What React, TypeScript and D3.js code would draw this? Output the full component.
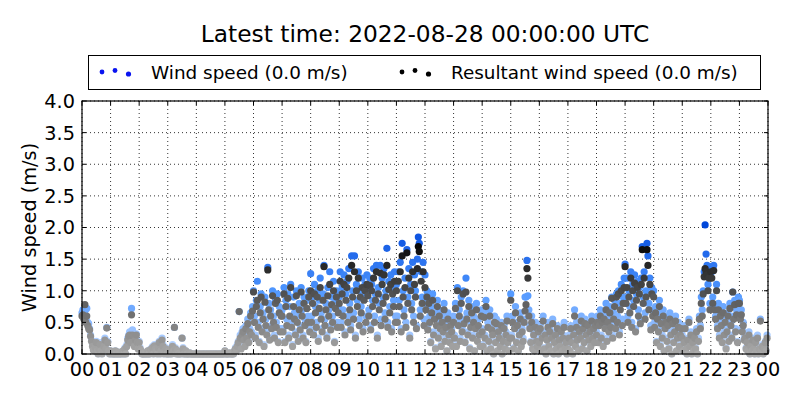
import React from 'react';
import * as d3 from 'd3';

// one sample every 2 minutes, 30 per hour, starting 2022-08-27 00:00 UTC
const stepMinutes = 2;

const windSpeed: number[] = [
  // 00
  0.65, 0.7, 0.6, 0.68, 0.55, 0.72, 0.5, 0.48, 0.4, 0.3, 0.22, 0.15, 0.08, 0.05, 0.12, 0.2, 0.06, 0.0, 0.1, 0.18, 0.05, 0.0, 0.08, 0.15, 0.25, 0.1, 0.42, 0.2, 0.05, 0.0,
  // 01
  0.05, 0.0, 0.02, 0.0, 0.0, 0.05, 0.0, 0.0, 0.03, 0.0, 0.0, 0.02, 0.0, 0.05, 0.0, 0.1, 0.0, 0.15, 0.25, 0.3, 0.35, 0.2, 0.72, 0.38, 0.3, 0.15, 0.25, 0.32, 0.2, 0.1,
  // 02
  0.2, 0.1, 0.05, 0.0, 0.0, 0.0, 0.02, 0.0, 0.0, 0.05, 0.0, 0.0, 0.08, 0.05, 0.12, 0.0, 0.15, 0.1, 0.05, 0.0, 0.12, 0.2, 0.0, 0.05, 0.25, 0.15, 0.0, 0.05, 0.1, 0.0,
  // 03
  0.0, 0.05, 0.0, 0.08, 0.0, 0.15, 0.05, 0.42, 0.1, 0.0, 0.05, 0.0, 0.0, 0.02, 0.0, 0.25, 0.1, 0.0, 0.0, 0.05, 0.0, 0.0, 0.0, 0.02, 0.0, 0.0, 0.0, 0.0, 0.0, 0.0,
  // 04
  0.0, 0.0, 0.0, 0.0, 0.0, 0.0, 0.0, 0.0, 0.0, 0.0, 0.0, 0.0, 0.0, 0.0, 0.0, 0.0, 0.0, 0.0, 0.0, 0.0, 0.0, 0.0, 0.0, 0.0, 0.0, 0.0, 0.0, 0.0, 0.0, 0.0,
  // 05
  0.05, 0.0, 0.0, 0.0, 0.0, 0.02, 0.0, 0.0, 0.0, 0.0, 0.05, 0.1, 0.05, 0.15, 0.2, 0.67, 0.3, 0.1, 0.35, 0.4, 0.25, 0.15, 0.45, 0.3, 0.55, 0.2, 0.4, 0.65, 0.35, 0.75,
  // 06
  1.0, 0.6, 0.3, 0.85, 1.15, 0.5, 0.2, 0.75, 0.95, 0.4, 0.65, 0.15, 0.9, 0.55, 0.35, 1.37, 0.8, 0.25, 0.7, 0.45, 1.0, 0.6, 0.3, 0.85, 0.5, 0.95, 0.2, 0.75, 0.4, 0.65,
  // 07
  0.7, 0.4, 1.05, 0.2, 0.85, 0.55, 0.95, 0.3, 0.75, 1.1, 0.5, 0.15, 0.9, 0.65, 0.35, 1.0, 0.6, 0.25, 0.8, 0.45, 1.05, 0.7, 0.3, 0.9, 0.55, 0.2, 0.85, 0.6, 1.0, 0.4,
  // 08
  1.27, 0.6, 0.9, 0.35, 1.1, 0.75, 0.5, 1.0, 0.25, 0.85, 1.2, 0.65, 0.4, 0.95, 1.4, 0.55, 0.8, 0.3, 1.05, 0.7, 1.3, 0.45, 0.9, 0.6, 1.15, 0.2, 0.85, 1.0, 0.5, 0.75,
  // 09
  0.9, 1.3, 0.5, 1.05, 0.7, 1.25, 0.35, 0.95, 1.15, 0.6, 1.35, 0.8, 0.45, 1.55, 1.0, 0.65, 1.55, 0.3, 1.1, 0.85, 1.3, 0.55, 1.0, 0.75, 1.2, 0.4, 0.95, 1.1, 0.6, 1.25,
  // 10
  1.0, 0.7, 1.2, 0.45, 1.1, 0.85, 1.35, 0.6, 0.95, 1.4, 0.3, 1.05, 0.8, 1.4, 0.55, 1.2, 0.9, 1.35, 0.65, 1.0, 1.67, 0.5, 1.15, 0.75, 1.25, 0.4, 1.05, 0.85, 1.3, 0.6,
  // 11
  1.1, 0.6, 1.3, 0.85, 1.45, 0.4, 1.75, 1.0, 0.7, 1.2, 0.5, 1.65, 0.9, 1.35, 0.3, 1.1, 0.8, 1.45, 0.6, 1.25, 1.0, 0.45, 1.5, 1.85, 1.75, 0.7, 1.3, 0.9, 1.45, 0.55,
  // 12
  1.25, 0.8, 1.0, 0.45, 0.9, 0.6, 0.2, 0.75, 0.95, 0.35, 0.65, 0.1, 0.55, 0.85, 0.3, 0.7, 0.45, 0.15, 0.6, 0.4, 0.8, 0.25, 0.5, 0.05, 0.65, 0.35, 0.2, 0.55, 0.4, 0.15,
  // 13
  0.6, 0.3, 0.8, 0.15, 1.05, 0.5, 0.7, 0.25, 0.9, 0.4, 1.0, 0.55, 0.2, 1.2, 0.65, 0.35, 0.85, 0.1, 0.5, 0.75, 0.3, 0.6, 0.05, 0.45, 0.8, 0.25, 0.55, 0.35, 0.15, 0.7,
  // 14
  0.4, 0.15, 0.65, 0.3, 0.85, 0.05, 0.5, 0.25, 0.7, 0.1, 0.45, 0.35, 0.0, 0.6, 0.2, 0.55, 0.05, 0.4, 0.3, 0.15, 0.5, 0.0, 0.25, 0.45, 0.1, 0.35, 0.6, 0.2, 0.05, 0.3,
  // 15
  0.95, 0.3, 0.6, 0.1, 0.45, 0.75, 0.2, 0.5, 0.05, 0.35, 0.65, 0.15, 0.4, 0.25, 0.55, 0.9, 0.9, 1.48, 0.92, 0.7, 0.45, 0.2, 0.6, 0.1, 0.35, 0.05, 0.5, 0.25, 0.15, 0.4,
  // 16
  0.2, 0.45, 0.05, 0.3, 0.6, 0.1, 0.35, 0.0, 0.25, 0.5, 0.15, 0.4, 0.05, 0.3, 0.55, 0.0, 0.2, 0.35, 0.1, 0.45, 0.0, 0.25, 0.15, 0.4, 0.05, 0.3, 0.5, 0.1, 0.2, 0.0,
  // 17
  0.1, 0.3, 0.05, 0.45, 0.2, 0.0, 0.35, 0.7, 0.15, 0.5, 0.25, 0.05, 0.4, 0.3, 0.6, 0.1, 0.45, 0.2, 0.55, 0.35, 0.05, 0.5, 0.25, 0.4, 0.15, 0.6, 0.3, 0.45, 0.2, 0.5,
  // 18
  0.35, 0.6, 0.2, 0.5, 0.7, 0.3, 0.55, 0.15, 0.65, 0.45, 0.8, 0.25, 0.6, 0.4, 0.75, 0.5, 0.9, 0.3, 0.65, 0.85, 0.45, 0.95, 0.6, 1.0, 0.35, 0.8, 1.1, 0.55, 0.9, 1.2,
  // 19
  1.42, 0.9, 1.2, 0.6, 1.0, 0.75, 1.3, 0.5, 1.1, 0.85, 1.25, 0.4, 0.95, 1.15, 0.7, 1.05, 0.55, 1.2, 1.7, 0.9, 1.3, 0.65, 1.0, 1.75, 1.55, 0.8, 1.2, 0.45, 1.05, 0.7,
  // 20
  1.0, 0.5, 0.75, 0.2, 0.65, 0.4, 0.85, 0.15, 0.55, 0.3, 0.7, 0.05, 0.45, 0.6, 0.25, 0.5, 0.1, 0.65, 0.35, 0.0, 0.55, 0.2, 0.4, 0.6, 0.05, 0.3, 0.5, 0.15, 0.35, 0.45,
  // 21
  0.3, 0.05, 0.2, 0.45, 0.1, 0.0, 0.25, 0.55, 0.15, 0.35, 0.0, 0.2, 0.05, 0.3, 0.1, 0.4, 0.0, 0.25, 0.6, 0.45, 0.9, 0.7, 1.0, 1.3, 2.04, 1.58, 1.4, 1.1, 1.3, 0.8,
  // 22
  1.38, 1.3, 0.9, 1.4, 0.75, 0.6, 1.1, 0.45, 0.8, 0.3, 0.65, 0.5, 0.2, 0.75, 0.35, 0.55, 0.1, 0.4, 0.65, 0.25, 0.8, 0.5, 0.3, 0.98, 0.6, 0.85, 0.4, 0.7, 0.2, 0.9,
  // 23
  0.85, 0.6, 0.7, 0.4, 0.5, 0.25, 0.3, 0.1, 0.2, 0.05, 0.35, 0.0, 0.15, 0.05, 0.25, 0.1, 0.0, 0.2, 0.05, 0.3, 0.0, 0.1, 0.55, 0.05, 0.15, 0.0, 0.1, 0.2, 0.05, 0.3,
];

const resultantSpeed: number[] = [
  // 00
  0.6, 0.62, 0.55, 0.78, 0.5, 0.6, 0.45, 0.4, 0.38, 0.28, 0.2, 0.12, 0.06, 0.05, 0.1, 0.18, 0.05, 0.0, 0.08, 0.15, 0.05, 0.0, 0.06, 0.12, 0.22, 0.08, 0.41, 0.18, 0.05, 0.0,
  // 01
  0.05, 0.0, 0.02, 0.0, 0.0, 0.05, 0.0, 0.0, 0.03, 0.0, 0.0, 0.02, 0.0, 0.05, 0.0, 0.08, 0.0, 0.12, 0.22, 0.28, 0.3, 0.18, 0.62, 0.3, 0.28, 0.12, 0.22, 0.3, 0.18, 0.08,
  // 02
  0.18, 0.08, 0.05, 0.0, 0.0, 0.0, 0.02, 0.0, 0.0, 0.05, 0.0, 0.0, 0.07, 0.05, 0.1, 0.0, 0.13, 0.08, 0.05, 0.0, 0.1, 0.18, 0.0, 0.05, 0.22, 0.12, 0.0, 0.05, 0.08, 0.0,
  // 03
  0.0, 0.05, 0.0, 0.07, 0.0, 0.12, 0.05, 0.42, 0.08, 0.0, 0.05, 0.0, 0.0, 0.02, 0.0, 0.25, 0.08, 0.0, 0.0, 0.05, 0.0, 0.0, 0.0, 0.02, 0.0, 0.0, 0.0, 0.0, 0.0, 0.0,
  // 04
  0.0, 0.0, 0.0, 0.0, 0.0, 0.0, 0.0, 0.0, 0.0, 0.0, 0.0, 0.0, 0.0, 0.0, 0.0, 0.0, 0.0, 0.0, 0.0, 0.0, 0.0, 0.0, 0.0, 0.0, 0.0, 0.0, 0.0, 0.0, 0.0, 0.0,
  // 05
  0.05, 0.0, 0.0, 0.0, 0.0, 0.02, 0.0, 0.0, 0.0, 0.0, 0.05, 0.08, 0.05, 0.12, 0.18, 0.67, 0.25, 0.08, 0.3, 0.35, 0.22, 0.12, 0.4, 0.25, 0.48, 0.18, 0.35, 0.6, 0.3, 0.68,
  // 06
  0.98, 0.5, 0.25, 0.75, 0.85, 0.42, 0.18, 0.65, 0.9, 0.35, 0.55, 0.12, 0.82, 0.45, 0.3, 1.33, 0.7, 0.22, 0.6, 0.4, 0.92, 0.5, 0.25, 0.8, 0.42, 0.85, 0.18, 0.65, 0.35, 0.6,
  // 07
  0.6, 0.35, 0.95, 0.18, 0.75, 0.45, 0.88, 0.25, 0.6, 1.05, 0.42, 0.12, 0.75, 0.55, 0.3, 0.92, 0.5, 0.2, 0.7, 0.38, 0.98, 0.6, 0.25, 0.8, 0.45, 0.18, 0.72, 0.5, 0.9, 0.35,
  // 08
  1.0, 0.5, 0.8, 0.3, 0.95, 0.65, 0.42, 0.9, 0.2, 0.72, 1.05, 0.55, 0.35, 0.85, 1.38, 0.45, 0.7, 0.25, 0.92, 0.6, 1.1, 0.38, 0.78, 0.5, 1.0, 0.18, 0.72, 0.9, 0.42, 0.65,
  // 09
  0.8, 1.15, 0.42, 0.95, 0.6, 1.1, 0.3, 0.85, 1.05, 0.5, 1.2, 0.7, 0.38, 1.4, 0.9, 0.55, 1.3, 0.25, 1.0, 0.75, 1.2, 0.45, 0.9, 0.65, 1.05, 0.35, 0.85, 1.0, 0.5, 1.1,
  // 10
  0.92, 0.6, 1.08, 0.38, 1.0, 0.75, 1.2, 0.5, 0.85, 1.3, 0.25, 0.95, 0.7, 1.28, 0.45, 1.1, 0.8, 1.25, 0.55, 0.9, 1.4, 0.42, 1.02, 0.65, 1.1, 0.35, 0.95, 0.75, 1.15, 0.5,
  // 11
  1.0, 0.5, 1.15, 0.75, 1.3, 0.35, 1.55, 0.9, 0.6, 1.05, 0.42, 1.6, 0.8, 1.2, 0.25, 1.0, 0.7, 1.3, 0.5, 1.1, 0.9, 0.4, 1.35, 1.7, 1.62, 0.6, 1.15, 0.8, 1.3, 0.45,
  // 12
  1.05, 0.7, 0.9, 0.38, 0.8, 0.5, 0.18, 0.65, 0.85, 0.3, 0.55, 0.08, 0.45, 0.75, 0.25, 0.6, 0.4, 0.12, 0.5, 0.35, 0.7, 0.2, 0.42, 0.05, 0.55, 0.3, 0.18, 0.45, 0.35, 0.12,
  // 13
  0.5, 0.25, 0.72, 0.12, 1.0, 0.45, 0.6, 0.2, 0.8, 0.35, 0.95, 0.48, 0.18, 0.98, 0.55, 0.3, 0.75, 0.08, 0.42, 0.65, 0.25, 0.5, 0.05, 0.4, 0.7, 0.2, 0.45, 0.3, 0.12, 0.6,
  // 14
  0.35, 0.12, 0.58, 0.25, 0.75, 0.05, 0.42, 0.2, 0.6, 0.08, 0.38, 0.3, 0.0, 0.5, 0.18, 0.48, 0.05, 0.35, 0.25, 0.12, 0.45, 0.0, 0.2, 0.4, 0.08, 0.3, 0.52, 0.18, 0.05, 0.25,
  // 15
  0.85, 0.25, 0.5, 0.08, 0.4, 0.65, 0.18, 0.45, 0.05, 0.3, 0.55, 0.12, 0.35, 0.2, 0.5, 0.68, 0.78, 1.35, 1.2, 0.6, 0.4, 0.18, 0.5, 0.08, 0.3, 0.05, 0.42, 0.2, 0.12, 0.35,
  // 16
  0.18, 0.4, 0.05, 0.25, 0.52, 0.08, 0.3, 0.0, 0.22, 0.42, 0.12, 0.35, 0.05, 0.25, 0.48, 0.0, 0.18, 0.3, 0.08, 0.4, 0.0, 0.22, 0.12, 0.35, 0.05, 0.25, 0.42, 0.08, 0.18, 0.0,
  // 17
  0.08, 0.25, 0.05, 0.4, 0.18, 0.0, 0.3, 0.6, 0.12, 0.42, 0.22, 0.05, 0.35, 0.25, 0.52, 0.08, 0.4, 0.18, 0.48, 0.3, 0.05, 0.45, 0.22, 0.35, 0.12, 0.52, 0.25, 0.4, 0.18, 0.45,
  // 18
  0.3, 0.5, 0.18, 0.45, 0.6, 0.25, 0.5, 0.12, 0.55, 0.4, 0.7, 0.2, 0.5, 0.35, 0.65, 0.42, 0.88, 0.25, 0.55, 0.75, 0.4, 0.9, 0.5, 0.95, 0.3, 0.7, 1.0, 0.45, 0.8, 1.05,
  // 19
  1.38, 0.8, 1.05, 0.5, 0.9, 0.65, 1.2, 0.42, 1.0, 0.75, 1.12, 0.35, 0.85, 1.05, 0.6, 0.95, 0.48, 1.1, 1.65, 0.8, 1.2, 0.55, 0.9, 1.65, 1.4, 0.7, 1.1, 0.38, 0.95, 0.6,
  // 20
  0.9, 0.42, 0.65, 0.18, 0.55, 0.35, 0.75, 0.12, 0.48, 0.25, 0.6, 0.05, 0.4, 0.5, 0.2, 0.45, 0.08, 0.55, 0.3, 0.0, 0.48, 0.18, 0.35, 0.52, 0.05, 0.25, 0.42, 0.12, 0.3, 0.4,
  // 21
  0.25, 0.05, 0.18, 0.4, 0.08, 0.0, 0.22, 0.5, 0.12, 0.3, 0.0, 0.18, 0.05, 0.25, 0.08, 0.35, 0.0, 0.2, 0.55, 0.4, 0.8, 0.6, 0.95, 1.22, 1.35, 1.3, 1.25, 1.0, 1.2, 0.7,
  // 22
  1.3, 1.2, 0.8, 1.32, 0.7, 0.55, 1.0, 0.4, 0.7, 0.25, 0.6, 0.45, 0.18, 0.65, 0.3, 0.5, 0.08, 0.35, 0.6, 0.2, 0.72, 0.45, 0.25, 0.98, 0.55, 0.78, 0.35, 0.62, 0.18, 0.8,
  // 23
  0.8, 0.55, 0.62, 0.35, 0.45, 0.22, 0.25, 0.08, 0.18, 0.05, 0.3, 0.0, 0.12, 0.05, 0.22, 0.08, 0.0, 0.18, 0.05, 0.25, 0.0, 0.08, 0.52, 0.05, 0.12, 0.0, 0.08, 0.18, 0.05, 0.25,
];

const hourLabels = ['00', '01', '02', '03', '04', '05', '06', '07', '08', '09', '10', '11',
  '12', '13', '14', '15', '16', '17', '18', '19', '20', '21', '22', '23', '00'];
const yTicks = [0, 0.5, 1.0, 1.5, 2.0, 2.5, 3.0, 3.5, 4.0];

const title = 'Latest time: 2022-08-28 00:00:00 UTC';
const legendWind = 'Wind speed (0.0 m/s)';
const legendResultant = 'Resultant wind speed (0.0 m/s)';

const font = 'DejaVu Sans, sans-serif';

export default function App() {
  const width = 800;
  const height = 400;
  const margin = { top: 101, right: 32, bottom: 46, left: 82 };
  const innerW = width - margin.left - margin.right;
  const innerH = height - margin.top - margin.bottom;

  const x = d3.scaleLinear().domain([0, 24 * 60]).range([0, innerW]);
  const y = d3.scaleLinear().domain([0, 4]).range([innerH, 0]);

  const blueColor = d3
    .scaleLinear<string>()
    .domain([0, 1, 2.05])
    .range(['#c6dcff', '#4e96ff', '#0046da'])
    .clamp(true);
  const grayColor = d3
    .scaleLinear<string>()
    .domain([0, 1.8])
    .range(['#ababab', '#000000'])
    .clamp(true);

  const r = 3.6;
  const tickLen = 4;

  return (
    <svg
      width={width}
      height={height}
      style={{ position: 'absolute', left: 0, top: 0, background: '#fff' }}
      fontFamily={font}
    >
      <rect width={width} height={height} fill="#fff" />
      <text x={425} y={42} textAnchor="middle" fontSize={23.3}>
        {title}
      </text>

      {/* legend */}
      <rect x={88.5} y={55.5} width={672} height={34} fill="#fff" stroke="#000" strokeWidth={1} />
      {[
        [102, 72, 2.4],
        [115, 70.5, 2.4],
        [128.5, 74, 2.6],
      ].map(([cx, cy, rr], i) => (
        <circle key={'lb' + i} cx={cx} cy={cy} r={rr} fill="#0a14f0" />
      ))}
      <text x={151} y={78.5} fontSize={18.4}>
        {legendWind}
      </text>
      {[
        [402, 72, 2.4],
        [415, 70.5, 2.4],
        [428.5, 74, 2.6],
      ].map(([cx, cy, rr], i) => (
        <circle key={'lk' + i} cx={cx} cy={cy} r={rr} fill="#000" />
      ))}
      <text x={451} y={78.5} fontSize={18.4}>
        {legendResultant}
      </text>

      <g transform={`translate(${margin.left},${margin.top})`}>
        {/* grid */}
        {hourLabels.map((_, i) => (
          <line
            key={'gx' + i}
            x1={x(i * 60)}
            x2={x(i * 60)}
            y1={0}
            y2={innerH}
            stroke="#000"
            strokeWidth={0.8}
            strokeDasharray="1,3"
          />
        ))}
        {yTicks.map((t) => (
          <line
            key={'gy' + t}
            x1={0}
            x2={innerW}
            y1={y(t)}
            y2={y(t)}
            stroke="#000"
            strokeWidth={0.8}
            strokeDasharray="1,3"
          />
        ))}

        {/* points */}
        {windSpeed.map((v, i) => (
          <circle key={'w' + i} cx={x(i * stepMinutes)} cy={y(v)} r={r} fill={blueColor(v)} />
        ))}
        {resultantSpeed.map((v, i) => (
          <circle key={'rs' + i} cx={x(i * stepMinutes)} cy={y(v)} r={r} fill={grayColor(v)} />
        ))}

        {/* ticks, inside on all four sides */}
        {hourLabels.map((_, i) => (
          <g key={'tx' + i}>
            <line x1={x(i * 60)} x2={x(i * 60)} y1={innerH} y2={innerH - tickLen} stroke="#000" />
            <line x1={x(i * 60)} x2={x(i * 60)} y1={0} y2={tickLen} stroke="#000" />
          </g>
        ))}
        {yTicks.map((t) => (
          <g key={'ty' + t}>
            <line x1={0} x2={tickLen} y1={y(t)} y2={y(t)} stroke="#000" />
            <line x1={innerW} x2={innerW - tickLen} y1={y(t)} y2={y(t)} stroke="#000" />
          </g>
        ))}

        <rect x={0} y={0} width={innerW} height={innerH} fill="none" stroke="#000" strokeWidth={1.2} />

        {/* tick labels */}
        {hourLabels.map((lab, i) => (
          <text key={'lx' + i} x={x(i * 60)} y={innerH + 22} textAnchor="middle" fontSize={19.3}>
            {lab}
          </text>
        ))}
        {yTicks.map((t) => (
          <text key={'ly' + t} x={-7} y={y(t)} dy="0.36em" textAnchor="end" fontSize={19.3}>
            {t.toFixed(1)}
          </text>
        ))}

        <text
          transform={`translate(${-46},${innerH / 2}) rotate(-90)`}
          textAnchor="middle"
          fontSize={19.3}
        >
          Wind speed (m/s)
        </text>
      </g>
    </svg>
  );
}
